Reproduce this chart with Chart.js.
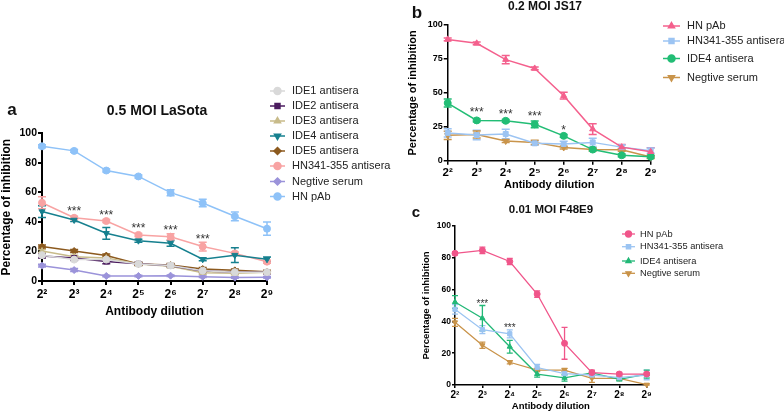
<!DOCTYPE html>
<html>
<head>
<meta charset="utf-8">
<script src="https://cdn.jsdelivr.net/npm/chart.js@4.4.1/dist/chart.umd.min.js"></script>
<style>
  body { margin: 0; background: #fff; }
  #wrap { position: relative; width: 784px; height: 413px; overflow: hidden; font-family: "Liberation Sans", Arial, sans-serif; }
  canvas { position: absolute; }
  .lbl { position: absolute; font-weight: bold; color: #111; white-space: nowrap; line-height: 1; transform: translate(-50%, -50%); }
</style>
</head>
<body>
<div id="wrap">
  <canvas id="chartA" width="404" height="250" style="left:-4px;top:80px"></canvas>
  <canvas id="chartB" width="404" height="200" style="left:380px;top:0px"></canvas>
  <canvas id="chartC" width="404" height="213" style="left:380px;top:200px"></canvas>

  <div class="lbl" style="left:12px;top:109px;font-size:17px">a</div>
  <div class="lbl" style="left:157px;top:110px;font-size:14px">0.5 MOI LaSota</div>
  <div class="lbl" style="left:417px;top:12px;font-size:17px">b</div>
  <div class="lbl" style="left:545px;top:6px;font-size:12px">0.2 MOI JS17</div>
  <div class="lbl" style="left:416px;top:211px;font-size:15px">c</div>
  <div class="lbl" style="left:551px;top:210px;font-size:11.5px">0.01 MOI F48E9</div>
</div>
<script>
const dilutions = ['2²', '2³', '2⁴', '2⁵', '2⁶', '2⁷', '2⁸', '2⁹'];

// panel a - 0.5 MOI LaSota
const aIde1 = [17.5, 14.5, 14.5, 11.5, 10.5, 7, 6, 6];
const aIde1Err = [1, 1, 1, 0.5, 0.5, 1, 1, 0.5];
const aIde2 = [17, 15.6, 13.2, 11.7, 10.4, 6.8, 6.1, 5.9];
const aIde2Err = [1.5, 1.5, 1.5, 1, 1, 1, 1, 1];
const aIde3 = [20.3, 16.5, 15.5, 11.5, 10, 5.6, 5.2, 6];
const aIde3Err = [1, 1, 1, 1, 1, 1, 1, 0.5];
const aIde4 = [47, 41.3, 32.3, 27.3, 25.5, 14.7, 17.5, 14.7];
const aIde4Err = [4, 1, 4, 1, 2, 1, 5, 1.5];
const aIde5 = [23.3, 20.3, 17.2, 11.5, 10.8, 8.1, 7.2, 6.3];
const aIde5Err = [1, 1, 1, 1, 1, 1, 1, 1];
const aHn341 = [53, 42.8, 40.6, 31.2, 30, 23.3, 18.7, 13.1];
const aHn341Err = [4, 1, 1, 1, 2, 3, 1, 1];
const aNeg = [10.4, 7.4, 3.4, 3.4, 3.6, 2.9, 2.3, 2.5];
const aNegErr = [1, 1, 0.5, 0.5, 0.5, 0.5, 0.5, 0.5];
const aPab = [91.2, 88.1, 74.8, 70.8, 59.8, 52.8, 43.8, 35.4];
const aPabErr = [1, 1, 1, 1, 2, 2.5, 3, 4.5];
const aStarAt = [1, 2, 3, 4, 5];
const aStarY = [49.2, 46.5, 37.9, 36.8, 30.7];
const aStarText = ['***', '***', '***', '***', '***'];

// panel b - 0.2 MOI JS17
const bPab = [89.4, 86.5, 74.5, 68, 47.9, 23.3, 10, 6.6];
const bPabErr = [1, 1, 3, 1, 2.5, 4, 2, 3];
const bHn341 = [20.5, 18.9, 19.7, 12.8, 12.3, 13.5, 10, 7.4];
const bHn341Err = [3, 3.5, 3.5, 1.5, 2, 3, 1.5, 2];
const bIde4 = [42.5, 29.7, 29.4, 26.8, 18.3, 8.2, 4, 3];
const bIde4Err = [3, 1, 1, 2.5, 1, 1, 1, 1];
const bNeg = [18.7, 19.3, 14.5, 13.5, 9.7, 8.3, 8, 2.7];
const bNegErr = [3, 2.5, 1, 1.5, 1, 1, 1, 1];
const bStarAt = [1, 2, 3, 4];
const bStarY = [38.1, 36.6, 34.9, 25.1];
const bStarText = ['***', '***', '***', '*'];

// panel c - 0.01 MOI F48E9
const cPab = [82.8, 84.7, 77.7, 57.2, 26.2, 7.8, 6.9, 6.9];
const cPabErr = [1, 2, 2, 2, 10, 1.5, 1, 1];
const cHn341 = [47.6, 34.8, 32.2, 11, 7.2, 6.3, 4.6, 6.3];
const cHn341Err = [3, 2.5, 2.5, 2, 1.5, 1, 1, 3];
const cIde4 = [52.2, 42, 24.1, 6.9, 4.5, 7.6, 3.6, 6.9];
const cIde4Err = [4, 8, 4, 2, 2, 1, 1, 2.5];
const cNeg = [39.4, 25, 14.3, 9.4, 9.4, 4.2, 4.2, 0.2];
const cNegErr = [2.5, 2, 1, 1, 1, 2.5, 1, 0.5];
const cStarAt = [1, 2];
const cStarY = [52.4, 37.7];
const cStarText = ['***', '***'];

const FONT = '"Liberation Sans", Arial, sans-serif';

const series = (label, data, err, color, style, rot, r, w) => ({
  label: label,
  data: data,
  err: err,
  borderColor: color,
  backgroundColor: color,
  pointBackgroundColor: color,
  pointBorderColor: color,
  pointStyle: style,
  rotation: rot,
  pointRadius: r,
  pointBorderWidth: 1,
  borderWidth: w,
  tension: 0,
  clip: false,
});

const errorBars = {
  id: 'errorBars',
  beforeDatasetsDraw(chart, args, opts) {
    const ctx = chart.ctx;
    const ys = chart.scales.y;
    chart.data.datasets.forEach((ds, i) => {
      const meta = chart.getDatasetMeta(i);
      ctx.save();
      ctx.strokeStyle = ds.borderColor;
      ctx.lineWidth = opts.width;
      meta.data.forEach((pt, j) => {
        const e = ds.err[j];
        if (!e) return;
        const top = ys.getPixelForValue(ds.data[j] + e);
        const bot = ys.getPixelForValue(Math.max(0, ds.data[j] - e));
        ctx.beginPath();
        ctx.moveTo(pt.x, top);
        ctx.lineTo(pt.x, bot);
        ctx.moveTo(pt.x - opts.cap, top);
        ctx.lineTo(pt.x + opts.cap, top);
        ctx.moveTo(pt.x - opts.cap, bot);
        ctx.lineTo(pt.x + opts.cap, bot);
        ctx.stroke();
      });
      ctx.restore();
    });
  }
};

const stars = {
  id: 'stars',
  afterDatasetsDraw(chart, args, opts) {
    const ctx = chart.ctx;
    ctx.save();
    ctx.font = opts.size + 'px ' + FONT;
    ctx.fillStyle = '#333';
    ctx.textAlign = 'center';
    ctx.textBaseline = 'alphabetic';
    opts.at.forEach((idx, k) => {
      const x = chart.scales.x.getPixelForValue(idx);
      const y = chart.scales.y.getPixelForValue(opts.y[k]) + opts.size * 0.58;
      ctx.fillText(opts.text[k], x, y);
    });
    ctx.restore();
  }
};

const sideLegend = {
  id: 'sideLegend',
  afterDraw(chart, args, opts) {
    const ctx = chart.ctx;
    ctx.save();
    ctx.font = opts.size + 'px ' + FONT;
    ctx.textBaseline = 'middle';
    chart.data.datasets.forEach((ds, i) => {
      const y = opts.rows[i];
      ctx.strokeStyle = ds.borderColor;
      ctx.lineWidth = ds.borderWidth;
      ctx.beginPath();
      ctx.moveTo(opts.x0, y);
      ctx.lineTo(opts.x1, y);
      ctx.stroke();
      ctx.fillStyle = ds.pointBackgroundColor;
      Chart.helpers.drawPoint(ctx, {
        pointStyle: ds.pointStyle,
        rotation: ds.rotation || 0,
        radius: ds.pointRadius,
        borderWidth: 1
      }, (opts.x0 + opts.x1) / 2, y);
      ctx.fillStyle = '#222';
      ctx.fillText(ds.label, opts.tx, y);
    });
    ctx.restore();
  }
};

function makeChart(id, datasets, p) {
  new Chart(document.getElementById(id), {
    type: 'line',
    data: { labels: dilutions, datasets: datasets },
    plugins: [errorBars, stars, sideLegend],
    options: {
      responsive: false,
      animation: false,
      devicePixelRatio: 1,
      layout: { padding: p.pad },
      plugins: {
        legend: { display: false },
        tooltip: { enabled: false },
        errorBars: { width: p.errW, cap: p.cap },
        stars: p.stars,
        sideLegend: p.legend,
      },
      scales: {
        x: {
          offset: false,
          grid: { drawOnChartArea: false, drawTicks: true, tickLength: p.tickLen, color: '#000', lineWidth: p.axisW },
          border: { color: '#000', width: p.axisW },
          ticks: { color: '#000', font: { family: FONT, size: p.xTickSize, weight: 'bold' }, padding: p.xTickPad, maxRotation: 0, autoSkip: false },
          title: { display: true, text: 'Antibody dilution', color: '#000', font: { family: FONT, size: p.titleSize, weight: 'bold' }, padding: { top: 0, bottom: p.xTitlePad } },
          afterFit: s => { s.height = p.xH; }
        },
        y: {
          min: 0,
          max: 100,
          grid: { drawOnChartArea: false, drawTicks: true, tickLength: p.tickLen, color: '#000', lineWidth: p.axisW },
          border: { color: '#000', width: p.axisW },
          ticks: { stepSize: p.step, color: '#000', font: { family: FONT, size: p.yTickSize, weight: 'bold' }, padding: 1 },
          title: { display: true, text: 'Percentage of inhibition', color: '#000', font: { family: FONT, size: p.titleSize, weight: 'bold' }, padding: { top: p.yTitlePad, bottom: 0 } },
          afterFit: s => { s.width = p.yW; }
        }
      }
    }
  });
}

makeChart('chartA', [
  series('IDE1 antisera', aIde1, aIde1Err, '#d9d9d9', 'circle', 0, 3.5, 1.5),
  series('IDE2 antisera', aIde2, aIde2Err, '#4b1c5f', 'rect', 0, 3.5, 1.5),
  series('IDE3 antisera', aIde3, aIde3Err, '#c8bb8a', 'triangle', 0, 3.5, 1.5),
  series('IDE4 antisera', aIde4, aIde4Err, '#16808f', 'triangle', 180, 3.5, 1.5),
  series('IDE5 antisera', aIde5, aIde5Err, '#8c5a1f', 'rectRot', 0, 3.5, 1.5),
  series('HN341-355 antisera', aHn341, aHn341Err, '#f8a3a3', 'circle', 0, 3.5, 1.5),
  series('Negtive serum', aNeg, aNegErr, '#9b93da', 'rectRot', 0, 3.5, 1.5),
  series('HN pAb', aPab, aPabErr, '#8ec2f8', 'circle', 0, 3.5, 1.5),
], {
  pad: { left: 0, right: 133, top: 53.3, bottom: 0 },
  xH: 49, yW: 46, tickLen: 4, axisW: 2, step: 20,
  xTickSize: 12, yTickSize: 10.5, xTickPad: 2, titleSize: 12, xTitlePad: 10.8, yTitlePad: 3,
  errW: 1.5, cap: 4,
  stars: { at: aStarAt, y: aStarY, text: aStarText, size: 12 },
  legend: { x0: 274, x1: 289, tx: 296, size: 11, rows: [11, 26, 41, 56, 71, 86, 101.5, 116.5] },
});

makeChart('chartB', [
  series('HN pAb', bPab, bPabErr, '#f4608d', 'triangle', 0, 3.5, 1.5),
  series('HN341-355 antisera', bHn341, bHn341Err, '#9cc4f3', 'rect', 0, 3.5, 1.5),
  series('IDE4 antisera', bIde4, bIde4Err, '#22bd75', 'circle', 0, 3.5, 1.5),
  series('Negtive serum', bNeg, bNegErr, '#c9944b', 'triangle', 180, 3.5, 1.5),
], {
  pad: { left: 26.4, right: 133.3, top: 25, bottom: 0 },
  xH: 39.3, yW: 41.3, tickLen: 4, axisW: 1.5, step: 25,
  xTickSize: 11.5, yTickSize: 9, xTickPad: 1, titleSize: 11, xTitlePad: 8.4, yTitlePad: 0,
  errW: 1.5, cap: 4,
  stars: { at: bStarAt, y: bStarY, text: bStarText, size: 12 },
  legend: { x0: 283, x1: 300, tx: 307, size: 11, rows: [26, 41, 58.5, 77.5] },
});

makeChart('chartC', [
  series('HN pAb', cPab, cPabErr, '#f0558a', 'circle', 0, 3, 1.3),
  series('HN341-355 antisera', cHn341, cHn341Err, '#9bc4f2', 'rect', 0, 3, 1.3),
  series('IDE4 antisera', cIde4, cIde4Err, '#22b877', 'triangle', 0, 3, 1.3),
  series('Negtive serum', cNeg, cNegErr, '#c99349', 'triangle', 180, 3, 1.3),
], {
  pad: { left: 41, right: 137.3, top: 26, bottom: 0 },
  xH: 28, yW: 34, tickLen: 3, axisW: 1.5, step: 20,
  xTickSize: 10, yTickSize: 8.5, xTickPad: 1, titleSize: 9.5, xTitlePad: 0.6, yTitlePad: 0,
  errW: 1.3, cap: 3,
  stars: { at: cStarAt, y: cStarY, text: cStarText, size: 10 },
  legend: { x0: 242, x1: 255, tx: 260, size: 9.3, rows: [34, 46.7, 61, 73.3] },
});
</script>
</body>
</html>
